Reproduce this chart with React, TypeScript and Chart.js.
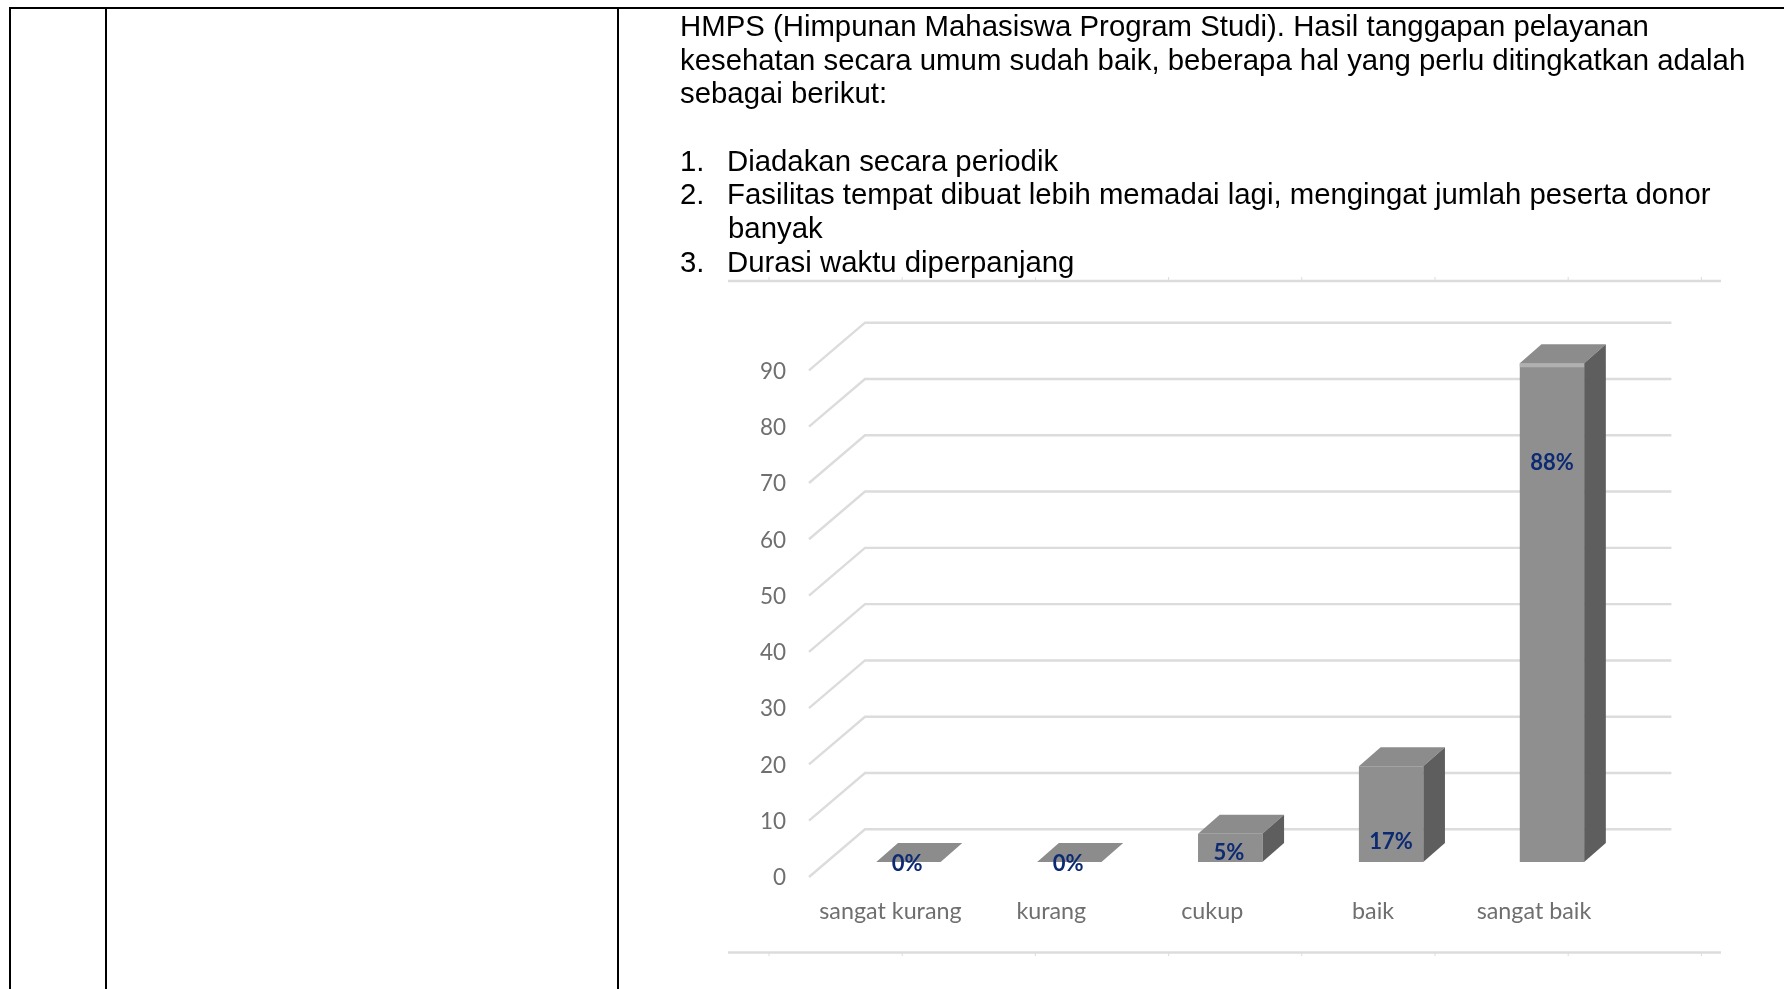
import React, { useEffect, useRef } from "react";
import { Chart, registerables } from "chart.js";

Chart.register(...registerables);

const categories = ["sangat kurang", "kurang", "cukup", "baik", "sangat baik"];
const values = [0, 0, 5, 17, 88.6];
const valueLabels = ["0%", "0%", "5%", "17%", "88%"];
const labelAnchors = [-0.25, -0.25, 1.55, 3.65, 70.85];
const yTicks = [0, 10, 20, 30, 40, 50, 60, 70, 80, 90];

const paragraphLines = [
  { t: "HMPS (Himpunan Mahasiswa Program Studi). Hasil tanggapan pelayanan", x: 680, y: 26 },
  { t: "kesehatan secara umum sudah baik, beberapa hal yang perlu ditingkatkan adalah", x: 680, y: 60 },
  { t: "sebagai berikut:", x: 680, y: 93 },
  { t: "1.", x: 680, y: 161 },
  { t: "Diadakan secara periodik", x: 727, y: 161 },
  { t: "2.", x: 680, y: 194 },
  { t: "Fasilitas tempat dibuat lebih memadai lagi, mengingat jumlah peserta donor", x: 727, y: 194 },
  { t: "banyak", x: 728, y: 228 },
  { t: "3.", x: 680, y: 262 },
  { t: "Durasi waktu diperpanjang", x: 727, y: 262 },
];

const tableRules = [
  { left: 9, top: 7, width: 1775, height: 2 },
  { left: 9, top: 7, width: 2, height: 982 },
  { left: 105, top: 7, width: 2, height: 982 },
  { left: 617, top: 7, width: 2, height: 982 },
];

const GRID = "#dcdcdc";
const FRONT = "#8f8f8f";
const TOP = "#8c8c8c";
const SIDE = "#5e5e5e";
const DX = 21.7;
const DY = 19;

const wall3d = {
  id: "wall3d",
  beforeDatasetsDraw(chart: any) {
    const { ctx, scales, chartArea } = chart;
    const y = scales.y;
    ctx.save();
    // Frame rulers of the pasted picture
    ctx.strokeStyle = GRID;
    ctx.lineWidth = 2.5;
    [281, 952.5].forEach((ry) => {
      ctx.beginPath();
      ctx.moveTo(728, ry);
      ctx.lineTo(1721, ry);
      ctx.stroke();
    });
    ctx.lineWidth = 1;
    for (let tx = 769; tx < 1720; tx += 133.2) {
      [[277, 280], [953, 956]].forEach(([a, b]) => {
        ctx.beginPath();
        ctx.moveTo(tx, a);
        ctx.lineTo(tx, b);
        ctx.stroke();
      });
    }
    // Floor/wall grid
    ctx.lineWidth = 2.4;
    yTicks.forEach((v) => {
      const p = y.getPixelForValue(v);
      ctx.beginPath();
      ctx.moveTo(chartArea.left - 19, p + 15);
      ctx.lineTo(chartArea.left + 37, p - 32.7);
      ctx.lineTo(chartArea.right + 39, p - 32.7);
      ctx.stroke();
    });
    // Bar depth
    const meta = chart.getDatasetMeta(0);
    meta.data.forEach((bar: any) => {
      const l = bar.x - bar.width / 2;
      const r = bar.x + bar.width / 2;
      const t = bar.y;
      const b = bar.base;
      ctx.fillStyle = TOP;
      ctx.beginPath();
      ctx.moveTo(l, t);
      ctx.lineTo(l + DX, t - DY);
      ctx.lineTo(r + DX, t - DY);
      ctx.lineTo(r, t);
      ctx.closePath();
      ctx.fill();
      if (b - t > 1) {
        ctx.fillStyle = SIDE;
        ctx.beginPath();
        ctx.moveTo(r, t);
        ctx.lineTo(r + DX, t - DY);
        ctx.lineTo(r + DX, b - DY);
        ctx.lineTo(r, b);
        ctx.closePath();
        ctx.fill();
      }
    });
    ctx.restore();
  },
  afterDatasetsDraw(chart: any) {
    const { ctx, scales } = chart;
    const meta = chart.getDatasetMeta(0);
    ctx.save();
    // Bevel on the tallest bar
    meta.data.forEach((bar: any, i: number) => {
      if (values[i] > 50) {
        ctx.fillStyle = "#b0b0b0";
        ctx.fillRect(bar.x - bar.width / 2, bar.y, bar.width, 4);
      }
    });
    ctx.fillStyle = "#0c2a72";
    ctx.font = "bold 22px Lato";
    ctx.textAlign = "center";
    ctx.textBaseline = "middle";
    valueLabels.forEach((s, i) => {
      const nudge = i < 3 ? -1.2 : 0;
      ctx.fillText(s, meta.data[i].x + nudge, scales.y.getPixelForValue(labelAnchors[i]));
    });
    ctx.restore();
  },
};

export default function App() {
  const ref = useRef<HTMLCanvasElement>(null);
  useEffect(() => {
    const chart = new Chart(ref.current as HTMLCanvasElement, {
      type: "bar",
      data: {
        labels: categories,
        datasets: [
          {
            data: values,
            backgroundColor: FRONT,
            barPercentage: 0.4,
            categoryPercentage: 1,
          },
        ],
      },
      plugins: [wall3d],
      options: {
        responsive: false,
        animation: false,
        layout: { padding: { left: 700, right: 151.6, top: 355.4, bottom: 0 } },
        plugins: { legend: { display: false }, tooltip: { enabled: false } },
        scales: {
          x: {
            grid: { display: false, drawTicks: false },
            border: { display: false },
            afterFit: (s: any) => { s.height = 127; },
            ticks: {
              color: "#6f6f6f",
              font: { family: "Lato", size: 23.3 },
              padding: 35.5,
              labelOffset: -18,
              maxRotation: 0,
            },
          },
          y: {
            min: 0,
            max: 90,
            grid: { display: false, drawTicks: false },
            border: { display: false },
            afterFit: (s: any) => { s.width = 128; },
            ticks: {
              stepSize: 10,
              color: "#6f6f6f",
              font: { family: "Lato", size: 22.5 },
              padding: 42,
              labelOffset: 16,
            },
          },
        },
      },
    });
    return () => chart.destroy();
  }, []);

  return (
    <div style={{ position: "absolute", left: 0, top: 0, width: 1784, height: 989, overflow: "hidden", background: "#fff" }}>
      {tableRules.map((r, i) => (
        <div key={i} style={{ position: "absolute", background: "#000", ...r }} />
      ))}
      <canvas ref={ref} width={1784} height={989} style={{ position: "absolute", left: 0, top: 0, display: "block", filter: "blur(0.4px)" }} />
      {paragraphLines.map((l, i) => (
        <div
          key={i}
          style={{
            position: "absolute",
            left: l.x,
            top: l.y - 17,
            lineHeight: "34px",
            whiteSpace: "nowrap",
            fontFamily: "'Liberation Sans', Arial, sans-serif",
            fontSize: 29.35,
            color: "#000",
          }}
        >
          {l.t}
        </div>
      ))}
    </div>
  );
}
